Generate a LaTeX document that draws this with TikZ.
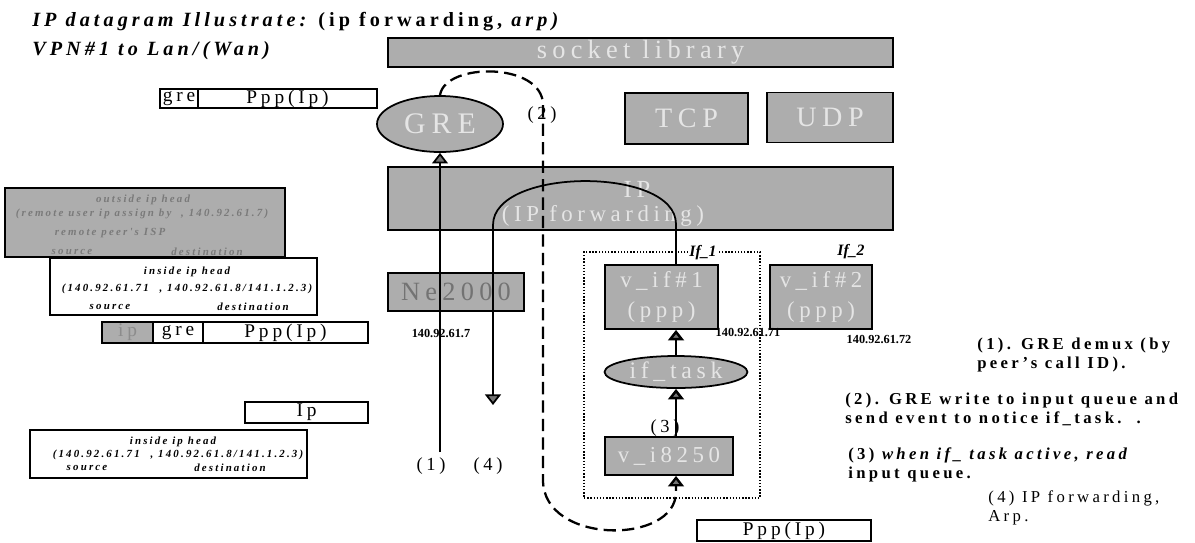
\documentclass[tikz,border=0pt]{standalone}
\usepackage{fontspec}
\setmainfont{Liberation Serif}
\newfontfamily\spfont[LetterSpace=20]{Liberation Serif}
\usetikzlibrary{shapes.geometric}
\usetikzlibrary{arrows.meta}
\tikzset{>={Triangle[width=9pt,length=6pt,fill=black!55]}}
\tikzset{
  layer/.style={draw,line width=1pt,fill=black!32,inner sep=0pt,text=black!10,
    font=\spfont\fontsize{16}{18}\selectfont},
  oval/.style={ellipse,draw,line width=1pt,fill=black!32,inner sep=0pt,text=black!10,
    font=\spfont\fontsize{16}{18}\selectfont},
  pkt/.style={draw,line width=0.9pt,fill=white,inner sep=0pt,font=\spfont\fontsize{11}{12}\selectfont},
  hd/.style={inner sep=0pt,font=\spfont\bfseries\itshape\fontsize{6.2}{7}\selectfont},
  addr/.style={inner sep=0pt,font=\bfseries\fontsize{7}{8}\selectfont},
  lbl/.style={inner sep=0pt,font=\spfont\fontsize{10.5}{12}\selectfont},
  note/.style={anchor=west,align=left,inner sep=0pt,font=\spfont\bfseries\fontsize{9.5}{10.8}\selectfont},
  title/.style={anchor=west,inner sep=0pt,font=\spfont\bfseries\fontsize{11.5}{13}\selectfont},
  flow/.style={line width=1pt,->},
  tunnel/.style={line width=1.3pt,dash pattern=on 7pt off 3.5pt,->}
}

\begin{document}
\begin{tikzpicture}[x=0.02cm,y=-0.02cm]
  \useasboundingbox (0,0) rectangle (1195,542);

  % titles
  \node[title] (t1) at (32,22) {\itshape IP datagram Illustrate: \upshape(ip forwarding, \itshape arp)};
  \node[title] (t2) at (32,51) {\itshape VPN\#1 to Lan/(Wan)};

  % protocol stack
  \node[layer,minimum width=10.1cm,minimum height=0.58cm,font=\spfont\fontsize{15}{17}\selectfont] (sock) at (640.5,52.5) {socket library};
  \node[oval,minimum width=2.52cm,minimum height=1.12cm,font=\spfont\fontsize{17}{18}\selectfont] (gre) at (440,124) {GRE};
  \node[layer,minimum width=2.46cm,minimum height=1.02cm] (tcp) at (686.5,118.5) {TCP};
  \node[layer,minimum width=2.52cm,minimum height=1.0cm] (udp) at (830,117.5) {UDP};
  \node[layer,minimum width=10.1cm,minimum height=1.26cm] (ip) at (640.5,198.5) {};
  \node[lbl,text=black!10,font=\spfont\fontsize{14}{15}\selectfont] (iplbl) at (637,189) {IP};
  \node[lbl,text=black!10,font=\spfont\fontsize{13}{15}\selectfont] (ipfwd) at (603,216) {(IP forwarding)};
  \node[layer,minimum width=2.72cm,minimum height=0.76cm,text=black!55,font=\spfont\fontsize{15}{17}\selectfont] (ne) at (456,292) {Ne2000};

  % interfaces
  \node[draw,densely dotted,line width=0.8pt,minimum width=3.52cm,minimum height=4.92cm] (if1) at (672,375) {};
  \node[fill=white,inner sep=1pt,font=\bfseries\itshape\fontsize{9}{10}\selectfont] (if1lbl) at (703,253) {If\_1};
  \node[inner sep=0pt,font=\bfseries\itshape\fontsize{9}{10}\selectfont] (if2lbl) at (851,252) {If\_2};
  \node[layer,align=center,minimum width=2.26cm,minimum height=1.28cm,font=\spfont\fontsize{13}{17}\selectfont] (vif1) at (661.5,297) {v\_if\#1\\(ppp)};
  \node[layer,align=center,minimum width=2.04cm,minimum height=1.28cm,font=\spfont\fontsize{13}{17}\selectfont] (vif2) at (821,297) {v\_if\#2\\(ppp)};
  \node[oval,minimum width=2.86cm,minimum height=0.64cm,font=\spfont\fontsize{13.5}{15}\selectfont] (task) at (676,372) {if\_task};
  \node[layer,minimum width=2.56cm,minimum height=0.76cm,font=\spfont\fontsize{13}{15}\selectfont] (i8250) at (669,456) {v\_i8250};
  \node[pkt,minimum width=3.48cm,minimum height=0.42cm] (pppb) at (784,530.5) {Ppp(Ip)};

  \node[addr] (a0) at (441,333) {140.92.61.7};
  \node[addr] (a1) at (748,332) {140.92.61.71};
  \node[addr] (a2) at (879,339) {140.92.61.72};

  % packets
  \node[pkt,minimum width=0.76cm,minimum height=0.38cm] (gre1) at (179,98.5) {gre};
  \node[pkt,minimum width=3.58cm,minimum height=0.38cm] (ppp1) at (287.5,98.5) {Ppp(Ip)};

  \node[draw,line width=1pt,fill=black!32,minimum width=5.6cm,minimum height=1.38cm] (outer) at (145,222.5) {};
  \node[hd,text=black!52] (o1) at (143,200) {outside ip head};
  \node[hd,text=black!52] (o2) at (142,214) {(remote user ip assign by\ \ ,\ 140.92.61.7)};
  \node[hd,text=black!52] (o3) at (110,233) {remote peer's ISP};
  \node[hd,text=black!52] (o4) at (72,252) {source};
  \node[hd,text=black!52] (o5) at (207,252) {destination};

  \node[pkt,minimum width=5.34cm,minimum height=1.14cm] (in1) at (183.5,286.5) {};
  \node[hd] (h1a) at (187,272) {inside ip head};
  \node[hd] (h1b) at (187,289) {(140.92.61.71\quad, 140.92.61.8/141.1.2.3)};
  \node[hd] (h1c) at (110,307) {source};
  \node[hd] (h1d) at (253,307) {destination};

  \node[pkt,fill=black!32,text=black!45,minimum width=1.02cm,minimum height=0.42cm] (ip2) at (127.5,332.5) {ip};
  \node[pkt,minimum width=1.0cm,minimum height=0.42cm] (gre2) at (178,332.5) {gre};
  \node[pkt,minimum width=3.3cm,minimum height=0.42cm] (ppp2) at (285.5,332.5) {Ppp(Ip)};

  \node[pkt,minimum width=2.46cm,minimum height=0.42cm] (ipb) at (306.5,412.5) {Ip};
  \node[pkt,minimum width=5.54cm,minimum height=0.96cm] (in2) at (168.5,454) {};
  \node[hd] (h2a) at (173,442) {inside ip head};
  \node[hd] (h2b) at (178,455) {(140.92.61.71\quad, 140.92.61.8/141.1.2.3)};
  \node[hd] (h2c) at (87,468) {source};
  \node[hd] (h2d) at (230,468) {destination};

  % step labels
  \node[lbl] (l1) at (431,466) {(1)};
  \node[lbl] (l4) at (488,466) {(4)};
  \node[lbl] (l2) at (542,115) {(2)};
  \node[lbl] (l3) at (665,428) {(3)};

  % flows
  \coordinate (src1) at (440,452);
  \coordinate (dst4) at (493,405);
  \draw[flow] (src1) -- (gre.south);
  \draw[flow] (vif1.north -| task.north) -- ++(0,-40) .. controls ++(0,-58) and (493,167) .. (493,225) -- (dst4);
  \draw[tunnel] (gre.north) .. controls (445,62) and (543,62) .. (543,105) -- (543,480)
    .. controls (543,545) and (676,545) .. (676,492) -- (i8250.south -| task.south);
  \draw[flow,line width=1.4pt] (task.north) -- (task.north |- vif1.south);
  \draw[flow,line width=1.4pt] (i8250.north -| task.south) -- (task.south);

  % notes
  \node[note] (n1) at (977,355) {(1). GRE demux (by\\peer’s call ID).};
  \node[note] (n2) at (845,409.5) {(2). GRE write to input queue and\\send event to notice if\_task.\ \ .};
  \node[note] (n3) at (848,464.5) {(3) \textit{when if\_ task active, read}\\input queue.};
  \node[note,font=\spfont\fontsize{9.5}{10.8}\selectfont] (n4) at (988,507.5) {(4) IP forwarding,\\Arp.};
\end{tikzpicture}
\end{document}
